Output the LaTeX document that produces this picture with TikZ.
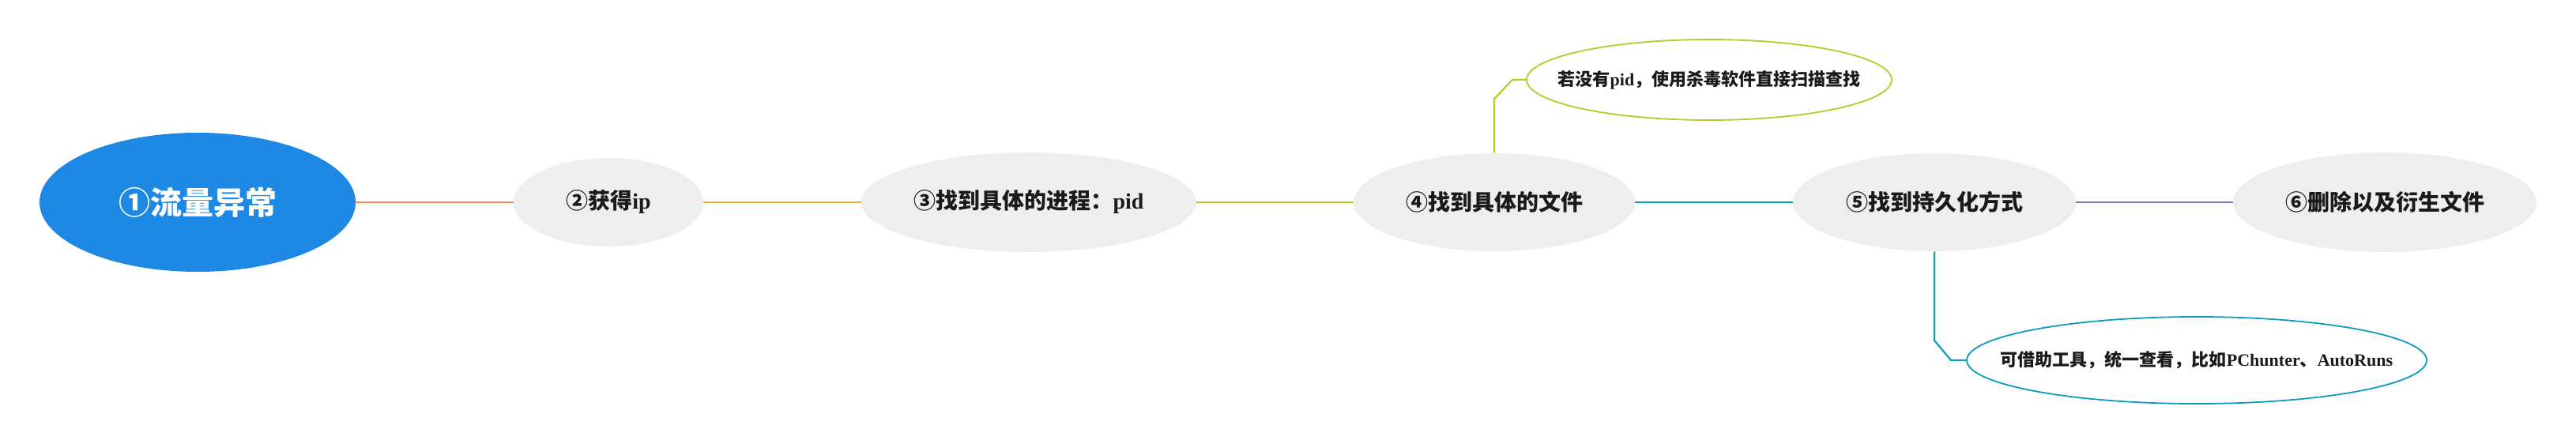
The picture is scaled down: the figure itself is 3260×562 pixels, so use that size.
\documentclass[tikz,border=0pt]{standalone}
\usepackage{fontspec}
\setmainfont{Liberation Serif}
\newfontfamily\cjk{Noto Sans CJK SC}
\usetikzlibrary{shapes.geometric}

\definecolor{rootblue}{HTML}{1E88E5}
\definecolor{nodegrey}{HTML}{EEEEEE}
\definecolor{txtdark}{HTML}{1A1A1A}
\definecolor{lnsalmon}{HTML}{FA8658}
\definecolor{lnorange}{HTML}{FBAA3A}
\definecolor{lngreen}{HTML}{B7C92C}
\definecolor{lnteal}{HTML}{0E9BBF}
\definecolor{lnpurple}{HTML}{7C78C2}

\newcommand{\zh}[1]{{\cjk\bfseries #1}}
\newcommand{\ctr}[1]{\makebox[0pt]{#1}}

\tikzset{
  rootnode/.style={ellipse, fill=rootblue, text=white, inner sep=0pt,
    font=\fontsize{20}{24}\selectfont\bfseries},
  topic/.style={ellipse, fill=nodegrey, text=txtdark, inner sep=0pt,
    font=\fontsize{14}{16}\selectfont\bfseries},
  note/.style={ellipse, draw, line width=0.9pt, fill=white, text=txtdark,
    inner sep=0pt, font=\fontsize{11}{13}\selectfont\bfseries},
  branch/.style={line width=1.1pt},
}

\begin{document}
\begin{tikzpicture}[x=0.5pt,y=0.5pt,yscale=-1,xscale=1]
    \useasboundingbox (0,0) rectangle (3260,562);

    %Shape: Ellipse [root]
    \node[rootnode, minimum width=200pt, minimum height=88pt] (n1) at (250,256) {\zh{①流量异常}};
    %Shape: Ellipse [topics]
    \node[topic, minimum width=120pt, minimum height=56pt] (n2) at (770,256) {\zh{②获得}ip};
    \node[topic, minimum width=212pt, minimum height=63pt] (n3) at (1302,256) {\zh{③找到具体的进程：}pid};
    \node[topic, minimum width=178pt, minimum height=62pt] (n4) at (1891,256) {\zh{④找到具体的文件}};
    \node[topic, minimum width=179pt, minimum height=62pt] (n5) at (2448,256) {\zh{⑤找到持久化方式}};
    \node[topic, minimum width=192pt, minimum height=63pt] (n6) at (3018,256) {\zh{⑥删除以及衍生文件}};

    %Shape: Ellipse [notes]
    \node[note, draw=lngreen, minimum width=231pt, minimum height=51pt] (t1) at (2163,101) {\ctr{\zh{若没有}pid\zh{，使用杀毒软件直接扫描查找}}};
    \node[note, draw=lnteal, minimum width=291pt, minimum height=55pt] (t2) at (2780,456) {\ctr{\zh{可借助工具，统一查看，比如}PChunter\zh{、}AutoRuns}};

    % Connectors
    \draw[branch, lnsalmon] (n1) -- (n2);
    \draw[branch, lnorange] (n2) -- (n3);
    \draw[branch, lngreen] (n3) -- (n4);
    \draw[branch, lnteal] (n4) -- (n5);
    \draw[branch, lnpurple] (n5) -- (n6);

    \coordinate (b1) at (1891,125);
    \coordinate (b2) at (1914,101);
    \draw[branch, lngreen] (n4.north) -- (b1) -- (b2) -- (t1);

    \coordinate (b3) at (2448,431);
    \coordinate (b4) at (2469,456);
    \draw[branch, lnteal] (n5.south) -- (b3) -- (b4) -- (t2);

\end{tikzpicture}
\end{document}
